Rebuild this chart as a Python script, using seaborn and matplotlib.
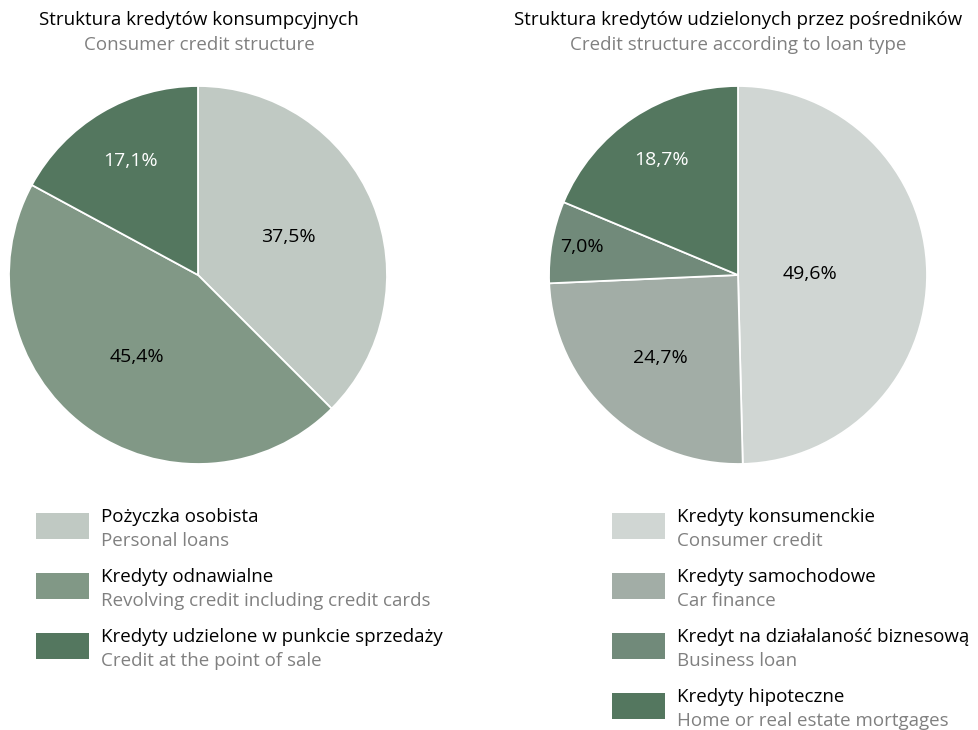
import numpy as np
import matplotlib
matplotlib.use("Agg")
import matplotlib.pyplot as plt
import seaborn as sns
from matplotlib.patches import Rectangle

# left chart data
left_title = "Struktura kredytów konsumpcyjnych"
left_subtitle = "Consumer credit structure"
left_pl = ["Pożyczka osobista", "Kredyty odnawialne", "Kredyty udzielone w punkcie sprzedaży"]
left_en = ["Personal loans", "Revolving credit including credit cards", "Credit at the point of sale"]
left_values = [37.5, 45.4, 17.1]
left_colors = ["#c0c9c3", "#819886", "#54775f"]

# right chart data
right_title = "Struktura kredytów udzielonych przez pośredników"
right_subtitle = "Credit structure according to loan type"
right_pl = ["Kredyty konsumenckie", "Kredyty samochodowe", "Kredyt na działalaność biznesową", "Kredyty hipoteczne"]
right_en = ["Consumer credit", "Car finance", "Business loan", "Home or real estate mortgages"]
right_values = [49.6, 24.7, 7.0, 18.7]
right_colors = ["#d0d6d3", "#a2ada6", "#718a7a", "#54775f"]

sns.set_theme(style="white")
plt.rcParams["font.family"] = ["Open Sans", "DejaVu Sans"]

W, H = 979, 730
FS = 13.5
fig = plt.figure(figsize=(W / 100, H / 100), dpi=100)
fig.patch.set_facecolor("white")


def px(x, y):
    return x / W, 1 - y / H


def draw_pie(cx, cy, r, values, colors, dists, text_colors):
    ax = fig.add_axes([(cx - r) / W, 1 - (cy + r) / H, 2 * r / W, 2 * r / H])
    wedges, _ = ax.pie(values, colors=colors, startangle=90, counterclock=False,
                       wedgeprops=dict(edgecolor="white", linewidth=1.3))
    for w, v, d, tc in zip(wedges, values, dists, text_colors):
        ang = np.deg2rad((w.theta1 + w.theta2) / 2)
        ax.text(d * np.cos(ang), d * np.sin(ang), f"{v:.1f}%".replace(".", ","),
                ha="center", va="center", fontsize=14, color=tc)
    ax.set_xlim(-1, 1)
    ax.set_ylim(-1, 1)
    ax.set_aspect("equal")
    ax.axis("off")
    return ax


def draw_legend(x0, y0, labels_pl, labels_en, colors, step=60):
    for i, (pl, en, c) in enumerate(zip(labels_pl, labels_en, colors)):
        y = y0 + i * step
        x1, y1 = px(x0, y + 26)
        fig.patches.append(Rectangle((x1, y1), 53 / W, 26 / H, transform=fig.transFigure,
                                     facecolor=c, edgecolor="none"))
        tx, ty = px(x0 + 65, y + 4)
        fig.text(tx, ty, pl, fontsize=FS, color="black", ha="left", va="center")
        tx, ty = px(x0 + 65, y + 28)
        fig.text(tx, ty, en, fontsize=FS, color="#808080", ha="left", va="center")


# titles
fig.text(*px(199, 20), left_title, fontsize=FS, color="black", ha="center", va="center")
fig.text(*px(199, 45), left_subtitle, fontsize=FS, color="#808080", ha="center", va="center")
fig.text(*px(738, 20), right_title, fontsize=FS, color="black", ha="center", va="center")
fig.text(*px(738, 45), right_subtitle, fontsize=FS, color="#808080", ha="center", va="center")

draw_pie(198, 275, 189, left_values, left_colors, [0.52, 0.54, 0.70],
         ["black", "black", "white"])
draw_pie(738, 275, 189, right_values, right_colors, [0.38, 0.6, 0.84, 0.73],
         ["black", "black", "black", "white"])

draw_legend(36, 513, left_pl, left_en, left_colors)
draw_legend(612, 513, right_pl, right_en, right_colors)

fig.savefig("out.png", dpi=100, facecolor="white")
